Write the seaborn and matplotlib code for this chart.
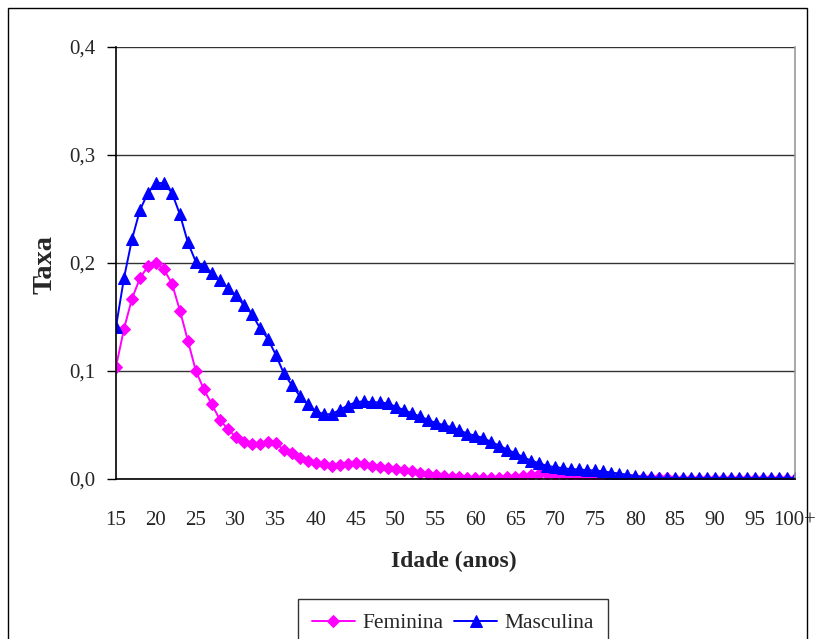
import matplotlib
matplotlib.use("Agg")
import matplotlib.pyplot as plt
import matplotlib.patches as mpatches
import seaborn as sns
import pandas as pd

ages = list(range(15, 101))
tick_ages = list(range(15, 101, 5))
tick_labels = [str(a) for a in range(15, 100, 5)] + ["100+"]
y_ticks = [0.0, 0.1, 0.2, 0.3, 0.4]
y_labels = ["0,0", "0,1", "0,2", "0,3", "0,4"]

feminina = [0.104, 0.139, 0.167, 0.186, 0.197, 0.200, 0.194, 0.181, 0.156, 0.128,
            0.100, 0.083, 0.069, 0.055, 0.046, 0.039, 0.034, 0.032, 0.032, 0.034,
            0.033, 0.027, 0.024, 0.019, 0.017, 0.015, 0.014, 0.012, 0.013, 0.014,
            0.015, 0.014, 0.012, 0.011, 0.010, 0.009, 0.008, 0.007, 0.006, 0.005,
            0.004, 0.003, 0.002, 0.0015, 0.001, 0.001, 0.001, 0.001, 0.001, 0.0015,
            0.002, 0.003, 0.0037, 0.0045, 0.0045, 0.004, 0.0035, 0.003, 0.0028, 0.0025,
            0.0022, 0.002, 0.0018, 0.0015, 0.0012, 0.001, 0.0008, 0.0006, 0.0005, 0.0005,
            0.0004, 0.0004, 0.0003, 0.0003, 0.0003, 0.0003, 0.0003, 0.0003, 0.0003, 0.0003,
            0.0003, 0.0003, 0.0003, 0.0003, 0.0003, 0.0003]

masculina = [0.141, 0.186, 0.222, 0.249, 0.265, 0.274, 0.274, 0.265, 0.245, 0.219,
             0.201, 0.197, 0.191, 0.184, 0.177, 0.170, 0.161, 0.153, 0.140, 0.130,
             0.115, 0.098, 0.087, 0.077, 0.069, 0.063, 0.060, 0.060, 0.064, 0.068,
             0.071, 0.072, 0.071, 0.071, 0.070, 0.067, 0.064, 0.061, 0.058, 0.055,
             0.052, 0.050, 0.048, 0.045, 0.042, 0.040, 0.038, 0.034, 0.031, 0.027,
             0.024, 0.020, 0.017, 0.0145, 0.012, 0.011, 0.010, 0.009, 0.009, 0.008,
             0.008, 0.007, 0.006, 0.005, 0.004, 0.003, 0.002, 0.0015, 0.0012, 0.001,
             0.001, 0.001, 0.001, 0.001, 0.001, 0.001, 0.001, 0.001, 0.001, 0.001,
             0.001, 0.001, 0.001, 0.001, 0.001, 0.001]

df = pd.DataFrame({"Idade": ages, "Feminina": feminina, "Masculina": masculina})

sns.set_style("white")
plt.rcParams["font.family"] = ["Liberation Serif", "DejaVu Serif"]

W, H = 815, 639
fig = plt.figure(figsize=(W / 100, H / 100), dpi=100)
L, R, T, B = 116, 795, 47, 479
ax = fig.add_axes([L / W, 1 - B / H, (R - L) / W, (B - T) / H])

sns.lineplot(data=df, x="Idade", y="Feminina", ax=ax, color="#FF00FF", marker="D",
             markersize=6.5, markeredgecolor="#FF00FF", linewidth=1.4, label="Feminina",
             legend=False)
sns.lineplot(data=df, x="Idade", y="Masculina", ax=ax, color="#0000FF", marker="^",
             markersize=8.5, markeredgecolor="#0000FF", linewidth=1.4, label="Masculina",
             legend=False)

ax.set_xlim(15, 100)
ax.set_ylim(0, 0.4)
ax.set_yticks(y_ticks)
ax.set_yticklabels(y_labels)
ax.set_xticks(tick_ages)
ax.set_xticklabels(tick_labels)
ax.set_xticks(ages, minor=True)
ax.tick_params(axis="x", which="both", direction="out", length=5, width=1, color="black",
               labelsize=15, pad=18)
ax.tick_params(axis="y", which="major", direction="out", length=6.5, width=1, color="black",
               labelsize=15, pad=8.5, left=True)
ax.yaxis.grid(True, color="#333333", linewidth=1)
ax.set_axisbelow(True)
for s in ["left", "bottom"]:
    ax.spines[s].set_color("black")
    ax.spines[s].set_linewidth(1.2)
ax.spines["right"].set_color("#999999")
ax.spines["right"].set_linewidth(1.2)
ax.spines["top"].set_visible(False)

ax.set_xlabel("Idade (anos)", fontsize=17, fontweight="bold", va="center", ha="center")
ax.xaxis.set_label_coords(454 / W, 1 - 561 / H, transform=fig.transFigure)
ax.set_ylabel("Taxa", fontsize=20.5, fontweight="bold", va="center", ha="center")
ax.yaxis.set_label_coords(45.5 / W, 1 - 265 / H, transform=fig.transFigure)

h, l = ax.get_legend_handles_labels()
fig.legend(h, l, loc="upper center", bbox_to_anchor=(453 / W, 1 - 599 / H), ncol=2,
           fontsize=15.5, frameon=True, fancybox=False, edgecolor="black",
           handlelength=2.0, columnspacing=0.5, handletextpad=0.35, borderpad=0.65,
           borderaxespad=0.0)
leg = fig.legends[0]
leg.get_frame().set_linewidth(1.0)

border = mpatches.Rectangle((8 / W, -0.1), (807 - 8) / W, 1 - 8 / H + 0.1,
                            transform=fig.transFigure, fill=False, edgecolor="black",
                            linewidth=1.0, clip_on=False)
fig.patches.append(border)

fig.savefig("out.png", dpi=100)
